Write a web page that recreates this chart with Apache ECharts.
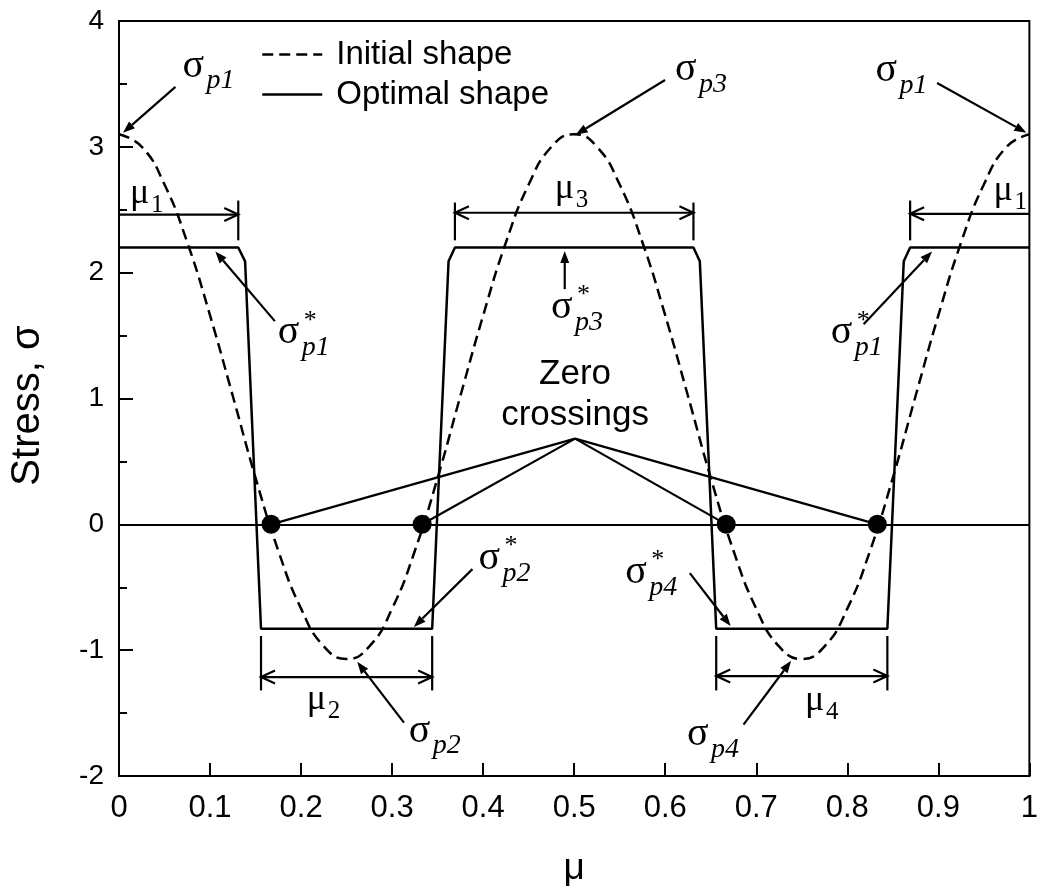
<!DOCTYPE html>
<html>
<head>
<meta charset="utf-8">
<script src="https://cdn.jsdelivr.net/npm/echarts@6/dist/echarts.min.js"></script>
<style>
  html, body { margin: 0; padding: 0; background: #fff; }
  #main { width: 1041px; height: 892px; }
</style>
</head>
<body>
<div id="main"></div>
<script>
// Stress along the normalised contour coordinate mu: initial vs optimal shape

// Initial shape (dashed curve)
const muInitial = [0, 0.025, 0.05, 0.075, 0.1, 0.125, 0.15, 0.175, 0.2, 0.225, 0.25,
  0.275, 0.3, 0.325, 0.35, 0.375, 0.4, 0.425, 0.45, 0.475, 0.5,
  0.525, 0.55, 0.575, 0.6, 0.625, 0.65, 0.675, 0.7, 0.725, 0.75,
  0.775, 0.8, 0.825, 0.85, 0.875, 0.9, 0.925, 0.95, 0.975, 1];
const sigmaInitial = [3.10, 3.00, 2.70, 2.24, 1.66, 1.02, 0.37, -0.21, -0.67, -0.97, -1.07,
  -0.97, -0.67, -0.21, 0.37, 1.02, 1.66, 2.24, 2.70, 3.00, 3.10,
  3.00, 2.70, 2.24, 1.66, 1.02, 0.37, -0.21, -0.67, -0.97, -1.07,
  -0.97, -0.67, -0.21, 0.37, 1.02, 1.66, 2.24, 2.70, 3.00, 3.10];

// Optimal shape (solid polyline)
const muOptimal = [0, 0.131, 0.1385, 0.156, 0.344, 0.362, 0.369, 0.631, 0.638, 0.656, 0.844, 0.862, 0.869, 1];
const sigmaOptimal = [2.2, 2.2, 2.09, -0.83, -0.83, 2.09, 2.2, 2.2, 2.09, -0.83, -0.83, 2.09, 2.2, 2.2];

// Zero crossings of the initial stress and the point where their leaders meet
const zeroCrossMu = [0.167, 0.333, 0.667, 0.833];
const zeroLeaderApex = [0.501, 0.681];
const zeroNoteAt = [0.501, 1.033];
const zeroNoteText = 'Zero\ncrossings';

// Pointer arrows: [muTail, sigmaTail, muHead, sigmaHead]
const pointerArrows = [
  [0.062, 3.476, 0.0044, 3.112],   // sigma_p1 (left)
  [0.8986, 3.507, 0.9967, 3.112],  // sigma_p1 (right)
  [0.5998, 3.531, 0.5016, 3.096],  // sigma_p3
  [0.1712, 1.615, 0.1058, 2.169],  // sigma*_p1 (left)
  [0.4896, 1.869, 0.4896, 2.172],  // sigma*_p3
  [0.8179, 1.591, 0.8931, 2.169],  // sigma*_p1 (right)
  [0.3882, -0.356, 0.3239, -0.816], // sigma*_p2
  [0.313, -1.576, 0.2617, -1.093], // sigma_p2
  [0.627, -0.388, 0.6718, -0.808], // sigma*_p4
  [0.686, -1.591, 0.7383, -1.085]  // sigma_p4
];

// Span markers: [muStart, muEnd, sigma, tickTop, tickBottom, headStart, headEnd, tickStart, tickEnd]
const spanMarks = [
  [0, 0.131, 2.462, 2.573, 2.257, 0, 1, 0, 1],        // mu_1 (left)
  [0.869, 1, 2.468, 2.573, 2.257, 1, 0, 1, 0],        // mu_1 (right)
  [0.369, 0.631, 2.476, 2.557, 2.257, 1, 1, 1, 1],    // mu_3
  [0.156, 0.344, -1.214, -0.887, -1.32, 1, 1, 1, 1],  // mu_2
  [0.656, 0.844, -1.206, -0.887, -1.32, 1, 1, 1, 1]   // mu_4
];

// Symbol labels: anchor position plus main glyph, subscript and superscript
const noteMu    = [0.0698, 0.6107, 0.831, 0.1745, 0.4744, 0.7819, 0.3948, 0.5562, 0.3184, 0.6238];
const noteSigma = [3.610, 3.579, 3.571, 1.489, 1.694, 1.489, -0.301, -0.412, -1.675, -1.705];
const noteMain  = ['σ', 'σ', 'σ', 'σ', 'σ', 'σ', 'σ', 'σ', 'σ', 'σ'];
const noteSub   = ['p1', 'p3', 'p1', 'p1', 'p3', 'p1', 'p2', 'p4', 'p2', 'p4'];
const noteSup   = ['', '', '', '*', '*', '*', '*', '*', '', ''];

const spanLabelMu    = [0.0131, 0.9618, 0.4798, 0.2072, 0.7546];
const spanLabelSigma = [2.605, 2.629, 2.645, -1.417, -1.425];
const spanLabelSub   = ['1', '1', '3', '2', '4'];

const SERIF = '"Liberation Serif", "Times New Roman", serif';
const SANS = '"Liberation Sans", Arial, Helvetica, sans-serif';
const INK = '#000';

function pairs(xs, ys) { return xs.map((x, i) => [x, ys[i]]); }

function arrowHead(tip, ang, len, half) {
  const bx = tip[0] - len * Math.cos(ang), by = tip[1] - len * Math.sin(ang);
  const nx = -Math.sin(ang) * half, ny = Math.cos(ang) * half;
  return { base: [bx, by], left: [bx + nx, by + ny], right: [bx - nx, by - ny] };
}

function renderPointer(params, api) {
  const p1 = api.coord([api.value(0), api.value(1)]);
  const p2 = api.coord([api.value(2), api.value(3)]);
  const ang = Math.atan2(p2[1] - p1[1], p2[0] - p1[0]);
  const h = arrowHead(p2, ang, 12, 4.5);
  return {
    type: 'group',
    children: [
      { type: 'line', shape: { x1: p1[0], y1: p1[1], x2: h.base[0], y2: h.base[1] },
        style: { stroke: INK, lineWidth: 2.2 } },
      { type: 'polygon', shape: { points: [p2, h.left, h.right] }, style: { fill: INK } }
    ]
  };
}

function renderLeader(params, api) {
  const a = api.coord([api.value(0), api.value(1)]);
  const b = api.coord([api.value(2), api.value(3)]);
  return { type: 'line', shape: { x1: a[0], y1: a[1], x2: b[0], y2: b[1] },
    style: { stroke: INK, lineWidth: 2.2 } };
}

function renderSpan(params, api) {
  const a = api.coord([api.value(0), api.value(2)]);
  const b = api.coord([api.value(1), api.value(2)]);
  const top = api.coord([0, api.value(3)])[1];
  const bot = api.coord([0, api.value(4)])[1];
  const kids = [
    { type: 'line', shape: { x1: a[0], y1: a[1], x2: b[0], y2: b[1] }, style: { stroke: INK, lineWidth: 2.2 } }
  ];
  const vee = (tip, ang) => {
    const h = arrowHead(tip, ang, 14, 6.5);
    kids.push({ type: 'polyline', shape: { points: [h.left, tip, h.right] },
      style: { stroke: INK, lineWidth: 2.2, fill: null } });
  };
  if (api.value(5)) vee(a, Math.PI);
  if (api.value(6)) vee(b, 0);
  if (api.value(7)) kids.push({ type: 'line', shape: { x1: a[0], y1: top, x2: a[0], y2: bot }, style: { stroke: INK, lineWidth: 2.2 } });
  if (api.value(8)) kids.push({ type: 'line', shape: { x1: b[0], y1: top, x2: b[0], y2: bot }, style: { stroke: INK, lineWidth: 2.2 } });
  return { type: 'group', children: kids };
}

function renderSigmaNote(params, api) {
  const i = params.dataIndex;
  const p = api.coord([api.value(0), api.value(1)]);
  const kids = [
    { type: 'text', x: p[0], y: p[1] - 4,
      style: { text: noteMain[i], fontFamily: SERIF, fontSize: 40, fill: INK, align: 'left', verticalAlign: 'middle' } },
    { type: 'text', x: p[0] + 24, y: p[1] + 11,
      style: { text: noteSub[i], fontFamily: SERIF, fontStyle: 'italic', fontSize: 28, fill: INK, align: 'left', verticalAlign: 'middle' } }
  ];
  if (noteSup[i]) {
    kids.push({ type: 'text', x: p[0] + 26, y: p[1] - 16,
      style: { text: noteSup[i], fontFamily: SERIF, fontSize: 26, fill: INK, align: 'left', verticalAlign: 'middle' } });
  }
  return { type: 'group', children: kids };
}

function renderSpanNote(params, api) {
  const i = params.dataIndex;
  const p = api.coord([api.value(0), api.value(1)]);
  return {
    type: 'group',
    children: [
      { type: 'text', x: p[0] - 1, y: p[1] - 3,
        style: { text: 'μ', fontFamily: SERIF, fontSize: 36, fill: INK, align: 'left', verticalAlign: 'middle' } },
      { type: 'text', x: p[0] + 20, y: p[1] + 9,
        style: { text: spanLabelSub[i], fontFamily: SERIF, fontSize: 25, fill: INK, align: 'left', verticalAlign: 'middle' } }
    ]
  };
}

function renderZeroNote(params, api) {
  const p = api.coord([api.value(0), api.value(1)]);
  return { type: 'text', x: p[0], y: p[1],
    style: { text: zeroNoteText, fontFamily: SANS, fontSize: 35, lineHeight: 41, fill: INK,
      align: 'center', verticalAlign: 'middle' } };
}

const chart = echarts.init(document.getElementById('main'), null, { renderer: 'canvas' });

chart.setOption({
  animation: false,
  backgroundColor: '#fff',
  grid: { left: 118, right: 6, top: 21, bottom: 113, show: true, borderColor: INK, borderWidth: 2 },
  legend: {
    data: ['Initial shape', 'Optimal shape'],
    orient: 'vertical',
    left: 256,
    top: 33,
    itemWidth: 60,
    itemHeight: 20,
    itemGap: 7,
    selectedMode: false,
    itemStyle: { opacity: 0 },
    lineStyle: { width: 2.5 },
    textStyle: { fontFamily: SANS, fontSize: 33, lineHeight: 32, color: INK, padding: [0, 0, 0, 9] }
  },
  xAxis: {
    type: 'value', min: 0, max: 1, interval: 0.1,
    name: 'μ', nameLocation: 'middle', nameGap: 74,
    nameTextStyle: { fontFamily: SANS, fontSize: 37, color: INK },
    axisLine: { onZero: false, lineStyle: { color: INK, width: 2 } },
    axisTick: { inside: true, length: 13, lineStyle: { color: INK, width: 2 } },
    axisLabel: { fontFamily: SANS, fontSize: 31, color: INK, margin: 17 },
    splitLine: { show: false }
  },
  yAxis: {
    type: 'value', min: -2, max: 4, interval: 1,
    name: 'Stress, σ', nameLocation: 'middle', nameRotate: 90, nameGap: 71,
    nameTextStyle: { fontFamily: SANS, fontSize: 40, color: INK, padding: [0, 14, 0, 0] },
    axisLine: { onZero: false, lineStyle: { color: INK, width: 2 } },
    axisTick: { inside: true, length: 14, lineStyle: { color: INK, width: 2 } },
    minorTick: { show: true, splitNumber: 2, length: 8, lineStyle: { color: INK, width: 2 } },
    minorSplitLine: { show: false },
    axisLabel: { fontFamily: SANS, fontSize: 28, color: INK, margin: 15 },
    splitLine: { show: false }
  },
  series: [
    {
      name: 'Initial shape', type: 'line', data: pairs(muInitial, sigmaInitial),
      smooth: 0.5, symbol: 'none', color: INK,
      lineStyle: { color: INK, width: 2.5, type: [11, 6] }, z: 3
    },
    {
      name: 'Optimal shape', type: 'line', data: pairs(muOptimal, sigmaOptimal),
      symbol: 'none', color: INK,
      lineStyle: { color: INK, width: 2.5, type: 'solid' }, z: 3,
      markLine: {
        silent: true, symbol: 'none', label: { show: false },
        lineStyle: { color: INK, width: 2.2, type: 'solid' },
        data: [{ yAxis: 0 }]
      }
    },
    {
      type: 'custom', renderItem: renderLeader, z: 4,
      data: zeroCrossMu.map(m => [zeroLeaderApex[0], zeroLeaderApex[1], m, 0]),
      encode: { x: [0, 2], y: [1, 3] }
    },
    {
      type: 'scatter', data: zeroCrossMu.map(m => [m, 0]), symbol: 'circle', symbolSize: 19,
      itemStyle: { color: INK, opacity: 1 }, z: 5
    },
    {
      type: 'custom', renderItem: renderPointer, data: pointerArrows, z: 4,
      encode: { x: [0, 2], y: [1, 3] }
    },
    {
      type: 'custom', renderItem: renderSpan, data: spanMarks, z: 4,
      encode: { x: [0, 1], y: [2] }
    },
    {
      type: 'custom', renderItem: renderSigmaNote, data: pairs(noteMu, noteSigma), z: 6,
      encode: { x: 0, y: 1 }
    },
    {
      type: 'custom', renderItem: renderSpanNote, data: pairs(spanLabelMu, spanLabelSigma), z: 6,
      encode: { x: 0, y: 1 }
    },
    {
      type: 'custom', renderItem: renderZeroNote, data: [zeroNoteAt], z: 6,
      encode: { x: 0, y: 1 }
    }
  ]
});
</script>
</body>
</html>
